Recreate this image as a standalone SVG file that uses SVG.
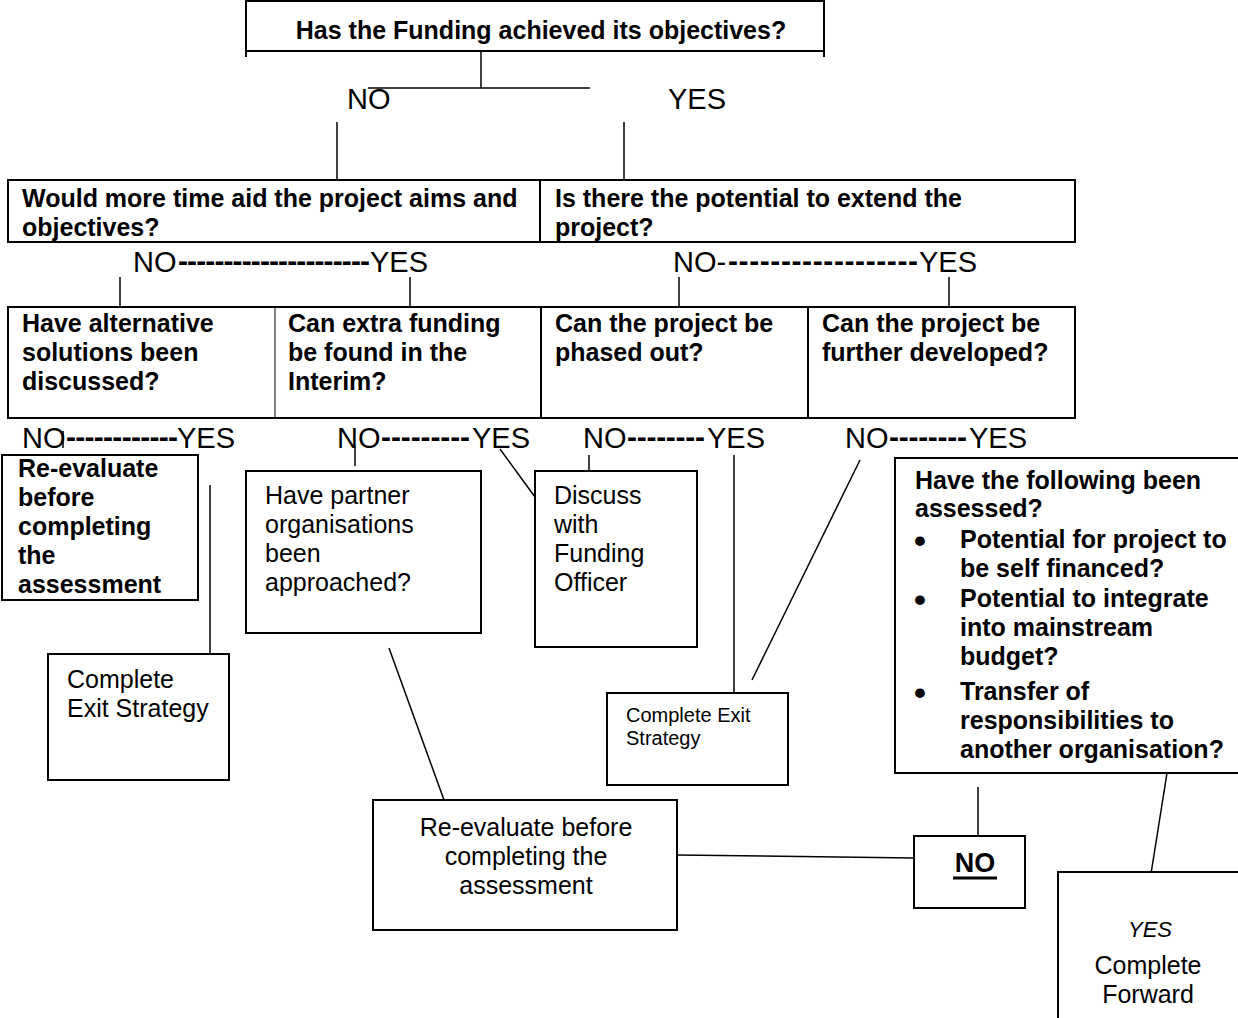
<svg xmlns="http://www.w3.org/2000/svg" width="1238" height="1018" viewBox="0 0 1238 1018">
<style>
.box{fill:#fff;stroke:#000;stroke-width:2}
.thin{fill:none;stroke:#000;stroke-width:1}
.ln{fill:none;stroke:#000;stroke-width:1.5}
.b{font-family:"Liberation Sans",Arial,sans-serif;font-weight:bold;font-size:25px;fill:#000}
.r{font-family:"Liberation Sans",Arial,sans-serif;font-size:25px;fill:#000}
.s{font-family:"Liberation Sans",Arial,sans-serif;font-size:20px;fill:#000}
.yn{font-family:"Liberation Sans",Arial,sans-serif;font-size:29px;fill:#000}
.d{font-family:"Liberation Sans",Arial,sans-serif;font-weight:bold;font-size:30px;fill:#000}
.bul{font-family:"Liberation Sans",Arial,sans-serif;font-weight:bold;font-size:34px;fill:#000}
</style>
<rect width="1238" height="1018" fill="#fff"/>

<g id="connectors">
<line class="ln" x1="481" y1="51" x2="481" y2="88"/>
<line class="ln" x1="368" y1="88" x2="590" y2="88"/>
<line class="ln" x1="337" y1="122" x2="337" y2="179"/>
<line class="ln" x1="624" y1="122" x2="624" y2="179"/>
<line class="ln" x1="120" y1="277" x2="120" y2="307"/>
<line class="ln" x1="410" y1="277" x2="410" y2="307"/>
<line class="ln" x1="679" y1="277" x2="679" y2="307"/>
<line class="ln" x1="949" y1="277" x2="949" y2="307"/>
<line class="ln" x1="63" y1="431" x2="63" y2="448"/>
<line class="ln" x1="355" y1="446" x2="355" y2="466"/>
<line class="ln" x1="500" y1="449" x2="535" y2="497"/>
<line class="ln" x1="589" y1="455" x2="589" y2="471"/>
<line class="ln" x1="210" y1="485" x2="210" y2="654"/>
<line class="ln" x1="734" y1="455" x2="734" y2="693"/>
<line class="ln" x1="860" y1="460" x2="752" y2="680"/>
<line class="ln" x1="389" y1="648" x2="444" y2="800"/>
<line class="ln" x1="677" y1="855" x2="914" y2="858"/>
<line class="ln" x1="978" y1="787" x2="978" y2="835"/>
<line class="ln" x1="1167" y1="773" x2="1150" y2="880"/>
</g>

<g id="n-funding">
<line class="box" x1="245" y1="1" x2="825" y2="1"/>
<line class="box" x1="245" y1="51" x2="825" y2="51"/>
<line class="box" x1="246" y1="0" x2="246" y2="57"/>
<line class="box" x1="824" y1="0" x2="824" y2="57"/>
<text class="b" x="541" y="39" text-anchor="middle">Has the Funding achieved its objectives?</text>
</g>

<g id="lbl-top">
<text class="yn" x="347" y="109">NO</text>
<text class="yn" x="668" y="109">YES</text>
</g>

<g id="n-time">
<rect class="box" x="8" y="180" width="532" height="62"/>
<text class="b" x="22" y="207">Would more time aid the project aims and</text>
<text class="b" x="22" y="236">objectives?</text>
</g>
<g id="n-extend">
<rect class="box" x="540" y="180" width="535" height="62"/>
<text class="b" x="555" y="207">Is there the potential to extend the</text>
<text class="b" x="555" y="236">project?</text>
</g>

<g id="lbl-row2">
<text class="yn" x="133" y="272">NO</text>
<text class="d" x="178" y="271" textLength="192" lengthAdjust="spacing">---------------------</text>
<text class="yn" x="428" y="272" text-anchor="end">YES</text>
<text class="yn" x="673" y="272">NO-</text>
<text class="d" x="728" y="271" textLength="190" lengthAdjust="spacing">------------------</text>
<text class="yn" x="977" y="272" text-anchor="end">YES</text>
</g>

<g id="row3">
<rect class="box" x="8" y="307" width="1067" height="111"/>
<line class="thin" x1="275" y1="307" x2="275" y2="418"/>
<line class="box" x1="541" y1="307" x2="541" y2="418"/>
<line class="box" x1="808" y1="307" x2="808" y2="418"/>
</g>
<g id="n-alt">
<text class="b" x="22" y="332">Have alternative</text>
<text class="b" x="22" y="361">solutions been</text>
<text class="b" x="22" y="390">discussed?</text>
</g>
<g id="n-extra">
<text class="b" x="288" y="332">Can extra funding</text>
<text class="b" x="288" y="361">be found in the</text>
<text class="b" x="288" y="390">Interim?</text>
</g>
<g id="n-phased">
<text class="b" x="555" y="332">Can the project be</text>
<text class="b" x="555" y="361">phased out?</text>
</g>
<g id="n-developed">
<text class="b" x="822" y="332">Can the project be</text>
<text class="b" x="822" y="361">further developed?</text>
</g>

<g id="lbl-row4">
<text class="yn" x="22" y="448">NO</text>
<text class="d" x="66" y="447" textLength="112" lengthAdjust="spacing">------------</text>
<text class="yn" x="235" y="448" text-anchor="end">YES</text>
<text class="yn" x="337" y="448">NO</text>
<text class="d" x="381" y="447" textLength="89" lengthAdjust="spacing">---------</text>
<text class="yn" x="530" y="448" text-anchor="end">YES</text>
<text class="yn" x="583" y="448">NO</text>
<text class="d" x="627" y="447" textLength="78" lengthAdjust="spacing">--------</text>
<text class="yn" x="765" y="448" text-anchor="end">YES</text>
<text class="yn" x="845" y="448">NO</text>
<text class="d" x="889" y="447" textLength="78" lengthAdjust="spacing">--------</text>
<text class="yn" x="1027" y="448" text-anchor="end">YES</text>
</g>

<g id="n-reeval1">
<rect class="box" x="2" y="455" width="196" height="145"/>
<text class="b" x="18" y="477">Re-evaluate</text>
<text class="b" x="18" y="506">before</text>
<text class="b" x="18" y="535">completing</text>
<text class="b" x="18" y="564">the</text>
<text class="b" x="18" y="593">assessment</text>
</g>

<g id="n-exit1">
<rect class="box" x="48" y="654" width="181" height="126"/>
<text class="r" x="67" y="688">Complete</text>
<text class="r" x="67" y="717">Exit Strategy</text>
</g>

<g id="n-partner">
<rect class="box" x="246" y="471" width="235" height="162"/>
<text class="r" x="265" y="504">Have partner</text>
<text class="r" x="265" y="533">organisations</text>
<text class="r" x="265" y="562">been</text>
<text class="r" x="265" y="591">approached?</text>
</g>

<g id="n-discuss">
<rect class="box" x="535" y="471" width="162" height="176"/>
<text class="r" x="554" y="504">Discuss</text>
<text class="r" x="554" y="533">with</text>
<text class="r" x="554" y="562">Funding</text>
<text class="r" x="554" y="591">Officer</text>
</g>

<g id="n-exit2">
<rect class="box" x="607" y="693" width="181" height="92"/>
<text class="s" x="626" y="722">Complete Exit</text>
<text class="s" x="626" y="745">Strategy</text>
</g>

<g id="n-assessed">
<rect class="box" x="895" y="458" width="350" height="315"/>
<text class="b" x="915" y="489">Have the following been</text>
<text class="b" x="915" y="517">assessed?</text>
<text class="bul" x="914" y="552">•</text>
<text class="b" x="960" y="548">Potential for project to</text>
<text class="b" x="960" y="577">be self financed?</text>
<text class="bul" x="914" y="611">•</text>
<text class="b" x="960" y="607">Potential to integrate</text>
<text class="b" x="960" y="636">into mainstream</text>
<text class="b" x="960" y="665">budget?</text>
<text class="bul" x="914" y="704">•</text>
<text class="b" x="960" y="700">Transfer of</text>
<text class="b" x="960" y="729">responsibilities to</text>
<text class="b" x="960" y="758">another organisation?</text>
</g>

<g id="n-reeval2">
<rect class="box" x="373" y="800" width="304" height="130"/>
<text class="r" x="526" y="836" text-anchor="middle">Re-evaluate before</text>
<text class="r" x="526" y="865" text-anchor="middle">completing the</text>
<text class="r" x="526" y="894" text-anchor="middle">assessment</text>
</g>

<g id="n-no">
<rect class="box" x="914" y="836" width="111" height="72"/>
<text class="b" x="975" y="872" text-anchor="middle" style="font-size:27px">NO</text>
<line x1="953" y1="878" x2="997" y2="878" stroke="#000" stroke-width="3"/>
</g>

<g id="n-forward">
<rect class="box" x="1058" y="872" width="190" height="150"/>
<text class="r" x="1150" y="937" text-anchor="middle" font-style="italic" style="font-size:22px">YES</text>
<text class="r" x="1148" y="974" text-anchor="middle">Complete</text>
<text class="r" x="1148" y="1003" text-anchor="middle">Forward</text>
</g>
</svg>
